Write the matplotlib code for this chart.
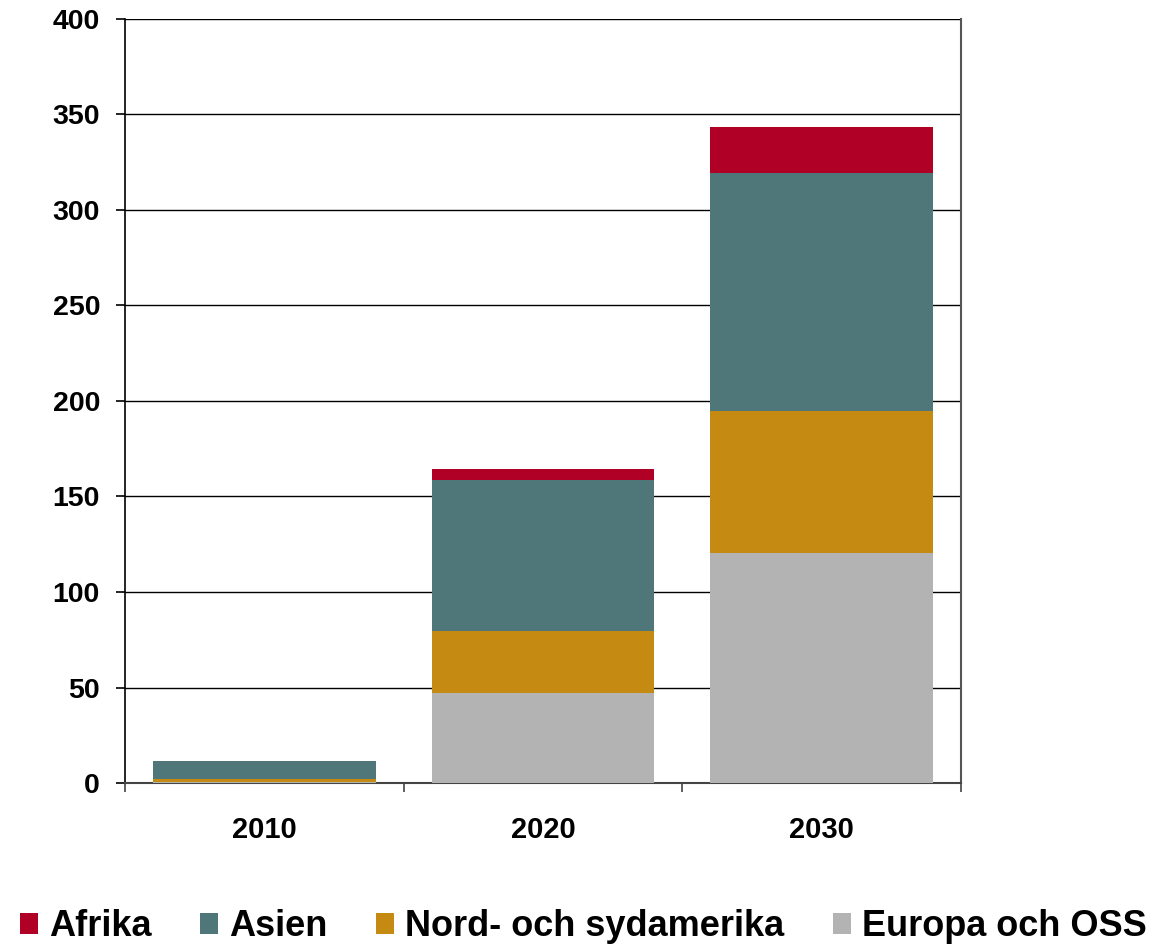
import matplotlib.pyplot as plt
import numpy as np

plt.rcParams['font.family'] = ['Liberation Sans', 'DejaVu Sans']

years = ['2010', '2020', '2030']
europa = [0.3, 47, 120.4]
nord = [1.8, 32.6, 74.4]
asien = [9.6, 78.9, 124.6]
afrika = [0.0, 6.1, 24.1]

serier = [
    ('Europa och OSS', europa, '#b3b3b3'),
    ('Nord- och sydamerika', nord, '#c48a12'),
    ('Asien', asien, '#4f7679'),
    ('Afrika', afrika, '#b10026'),
]

fig = plt.figure(figsize=(11.51, 9.48), dpi=100)
ax = fig.add_axes([125 / 1151, 1 - 783 / 948, 836 / 1151, 764 / 948])

x = np.arange(len(years))
botten = np.zeros(len(years))
handles = {}
for namn, vals, farg in serier:
    h = ax.bar(x, vals, width=0.8, bottom=botten, color=farg, zorder=3, label=namn)
    handles[namn] = h
    botten += np.array(vals)

ax.set_xlim(-0.5, 2.5)
ax.set_ylim(0, 400)
ax.set_yticks(range(0, 401, 50))
ax.yaxis.grid(True, color='black', linewidth=1.0, zorder=0)
ax.set_axisbelow(True)

ax.set_xticks(x)
ax.set_xticklabels(years, fontsize=21, fontweight='bold')
ax.set_xticks([-0.5, 0.5, 1.5, 2.5], minor=True)
ax.tick_params(axis='x', which='major', length=0, pad=24)
ax.tick_params(axis='x', which='minor', length=6.5, width=1.2, color='#444444')
ax.tick_params(axis='y', length=6.5, width=1.2, labelsize=20.5, pad=11.5)
for lbl in ax.get_yticklabels():
    lbl.set_fontweight('bold')

ax.spines['top'].set_visible(False)
ax.spines['right'].set_color('#555555')
ax.spines['right'].set_linewidth(1.5)
ax.spines['left'].set_linewidth(1.2)
ax.spines['bottom'].set_linewidth(1.5)
ax.spines['bottom'].set_color('#444444')

ordning = ['Afrika', 'Asien', 'Nord- och sydamerika', 'Europa och OSS']
fig.legend([handles[n] for n in ordning], ordning, loc='center',
           bbox_to_anchor=(583 / 1151, 1 - 927 / 948), ncol=4, frameon=False,
           prop={'size': 26, 'weight': 'bold'}, handlelength=0.5,
           handleheight=0.5, handletextpad=0.3, columnspacing=1.35,
           borderpad=0.1)

fig.savefig('out.png', dpi=100)
